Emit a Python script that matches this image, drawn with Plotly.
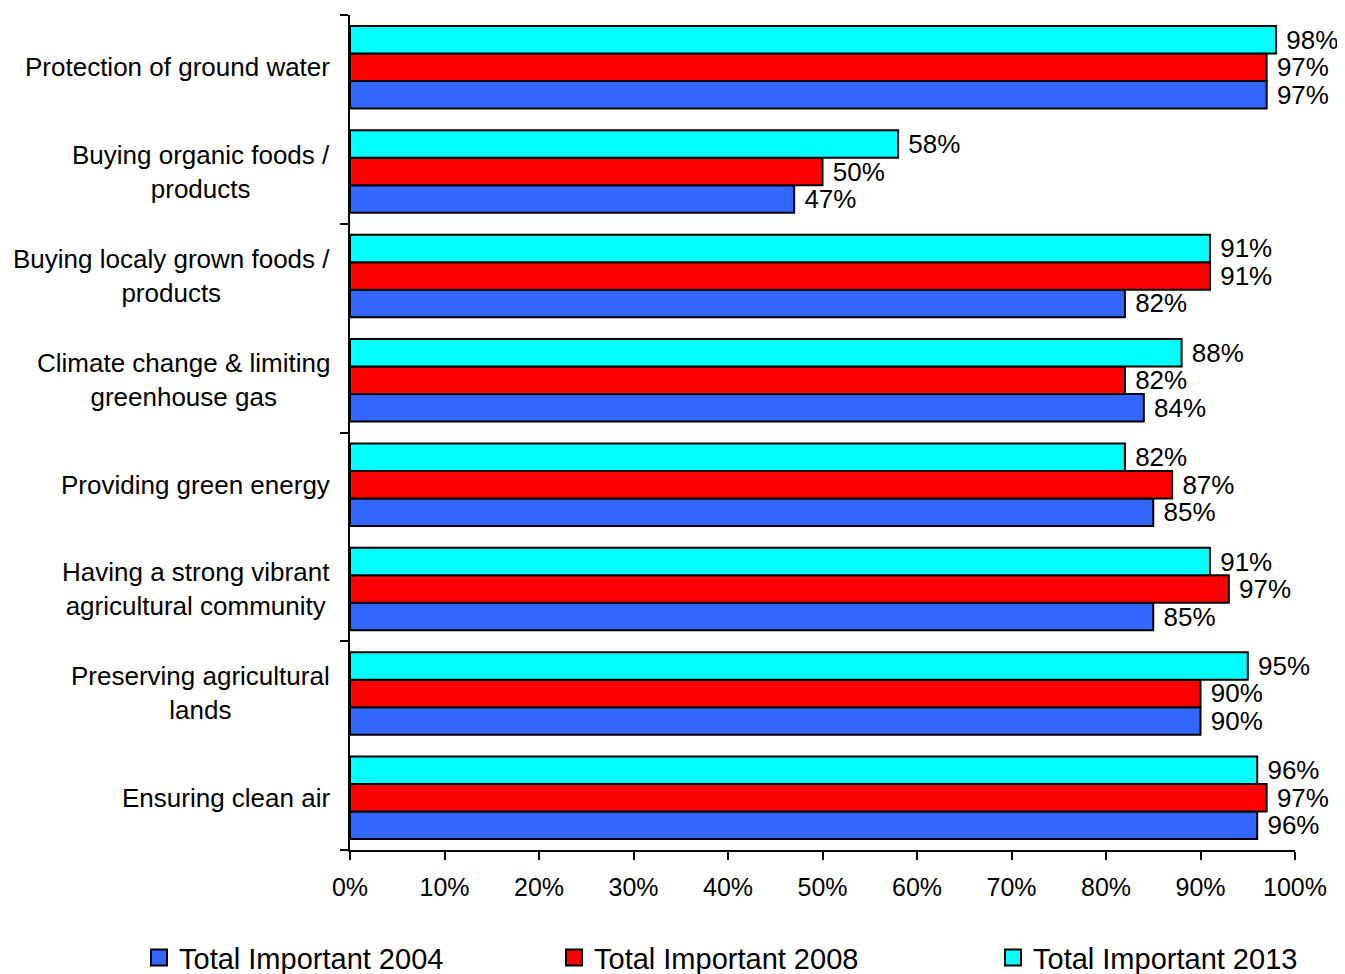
import plotly.graph_objects as go

# Categories listed top to bottom as in the chart
categories = [
    "Protection of ground water",
    "Buying organic foods /<br>products",
    "Buying localy grown foods /<br>products",
    "Climate change & limiting<br>greenhouse gas",
    "Providing green energy",
    "Having a strong vibrant<br>agricultural community",
    "Preserving agricultural<br>lands",
    "Ensuring clean air",
]
cat_keys = [f"c{i}" for i in range(len(categories))]

series_names = ["Total Important 2004", "Total Important 2008", "Total Important 2013"]
values_2004 = [0.97, 0.47, 0.82, 0.84, 0.85, 0.85, 0.90, 0.96]
values_2008 = [0.97, 0.50, 0.91, 0.82, 0.87, 0.93, 0.90, 0.97]
values_2013 = [0.98, 0.58, 0.91, 0.88, 0.82, 0.91, 0.95, 0.96]
labels_2004 = ["97%", "47%", "82%", "84%", "85%", "85%", "90%", "96%"]
labels_2008 = ["97%", "50%", "91%", "82%", "87%", "97%", "90%", "97%"]
labels_2013 = ["98%", "58%", "91%", "88%", "82%", "91%", "95%", "96%"]
colors = ["#3366FF", "#FF0000", "#00FFFF"]

x_tickvals = [i / 10 for i in range(11)]
x_ticktext = [f"{i*10}%" for i in range(11)]

FONT = "Arial, Liberation Sans, sans-serif"

fig = go.Figure()
for name, vals, labs, col in zip(series_names,
                                 [values_2004, values_2008, values_2013],
                                 [labels_2004, labels_2008, labels_2013],
                                 colors):
    fig.add_trace(go.Bar(
        name=name, x=vals, y=cat_keys, orientation="h",
        marker=dict(color=col, line=dict(color="black", width=2)),
        text=labs, texttemplate="\u00a0%{text}",
        textposition="outside", constraintext="none",
        textfont=dict(family=FONT, size=26, color="black"),
        cliponaxis=False, showlegend=False,
    ))

# Legend entries (square swatches), one legend per entry for exact placement
legend_ids = ["legend", "legend2", "legend3"]
for name, col, lid in zip(series_names, colors, legend_ids):
    fig.add_trace(go.Scatter(
        name=name, x=[None], y=[None], yaxis="y2", mode="markers",
        marker=dict(symbol="square", size=21, color=col,
                    line=dict(color="black", width=2)),
        showlegend=True, legend=lid,
    ))

for key, label in zip(cat_keys, categories):
    fig.add_annotation(
        x=0, xref="paper", y=key, yref="y", text=label,
        xanchor="right", yanchor="middle", align="center", xshift=-18,
        showarrow=False, font=dict(family=FONT, size=26, color="black"),
    )

legend_common = dict(
    orientation="h", xanchor="left", y=-0.129, yanchor="middle",
    font=dict(family=FONT, size=29, color="black"),
    bgcolor="rgba(0,0,0,0)", itemsizing="trace",
)

fig.update_layout(
    width=1337, height=966,
    margin=dict(l=342, r=50, t=7, b=124, autoexpand=False),
    paper_bgcolor="white", plot_bgcolor="white",
    barmode="group", bargap=0.21, bargroupgap=0,
    font=dict(family=FONT, size=25, color="black"),
    showlegend=True,
    legend=dict(x=(139 - 350) / 945, **legend_common),
    legend2=dict(x=(554 - 350) / 945, **legend_common),
    legend3=dict(x=(993 - 350) / 945, **legend_common),
    xaxis=dict(
        range=[0, 1], tickvals=x_tickvals, ticktext=x_ticktext,
        ticks="outside", ticklen=8, tickwidth=2, tickcolor="black",
        ticklabelstandoff=6,
        showline=True, linecolor="black", linewidth=2,
        showgrid=False, zeroline=False,
        tickfont=dict(family=FONT, size=25, color="black"),
    ),
    yaxis=dict(
        type="category", categoryorder="array", categoryarray=cat_keys[::-1],
        range=[-0.5, len(cat_keys) - 0.5],
        showticklabels=False, ticks="", showline=False, showgrid=False,
        zeroline=False,
    ),
    yaxis2=dict(
        overlaying="y", anchor="x", side="left",
        range=[-0.5, len(cat_keys) - 0.5],
        tickmode="array", tickvals=[-0.5, 1.5, 3.5, 5.5, 7.5],
        ticks="outside", ticklen=8, tickwidth=2, tickcolor="black",
        showticklabels=False, showline=True, linecolor="black", linewidth=2,
        showgrid=False, zeroline=False,
    ),
)

fig.write_html("out.html")
